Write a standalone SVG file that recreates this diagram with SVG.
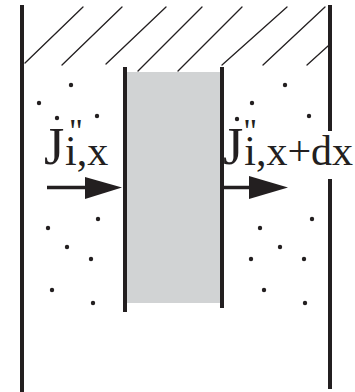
<svg xmlns="http://www.w3.org/2000/svg" width="355" height="392" viewBox="0 0 355 392">
<style>
.wall{stroke:#231f20;stroke-width:4;fill:none}
.inner{stroke:#231f20;stroke-width:4;fill:none}
.hatch{stroke:#231f20;stroke-width:1.3;fill:none;stroke-linecap:round}
.dot{fill:#231f20}
.t{font-family:"Liberation Serif","Times New Roman",serif;fill:#231f20}
.shaft{stroke:#231f20;stroke-width:3.5;fill:none}
.head{fill:#231f20}
</style>
<rect width="355" height="392" fill="#ffffff"/>
<g id="hatching">
<line class="hatch" x1="25" y1="63" x2="83" y2="7"/>
<line class="hatch" x1="62" y1="65" x2="122" y2="7"/>
<line class="hatch" x1="106" y1="64" x2="166" y2="7"/>
<line class="hatch" x1="138" y1="71" x2="202" y2="7"/>
<line class="hatch" x1="178" y1="71" x2="242" y2="7"/>
<line class="hatch" x1="222" y1="65" x2="287" y2="7"/>
<line class="hatch" x1="263" y1="65" x2="325" y2="7"/>
<line class="hatch" x1="307" y1="65" x2="328" y2="46"/>
</g>
<g id="walls">
<line class="wall" x1="22" y1="5" x2="22" y2="392"/>
<line class="wall" x1="330" y1="5" x2="330" y2="389"/>
</g>
<g id="membrane">
<rect x="127" y="72" width="93" height="231" fill="#d1d3d4"/>
<line class="inner" x1="125" y1="67" x2="125" y2="312"/>
<line class="inner" x1="222" y1="67" x2="222" y2="308"/>
</g>
<g id="particles">
<circle class="dot" cx="71" cy="85" r="2.2"/>
<circle class="dot" cx="39" cy="103" r="2.2"/>
<circle class="dot" cx="57" cy="118" r="2.2"/>
<circle class="dot" cx="97" cy="116" r="2.2"/>
<circle class="dot" cx="98" cy="219" r="2.2"/>
<circle class="dot" cx="48" cy="228" r="2.2"/>
<circle class="dot" cx="67" cy="247" r="2.2"/>
<circle class="dot" cx="91" cy="259" r="2.2"/>
<circle class="dot" cx="52" cy="290" r="2.2"/>
<circle class="dot" cx="93" cy="303" r="2.2"/>
<circle class="dot" cx="285" cy="85" r="2.2"/>
<circle class="dot" cx="252" cy="103" r="2.2"/>
<circle class="dot" cx="237" cy="119" r="2.2"/>
<circle class="dot" cx="309" cy="116" r="2.2"/>
<circle class="dot" cx="312" cy="219" r="2.2"/>
<circle class="dot" cx="260" cy="228" r="2.2"/>
<circle class="dot" cx="280" cy="247" r="2.2"/>
<circle class="dot" cx="251" cy="259" r="2.2"/>
<circle class="dot" cx="304" cy="259" r="2.2"/>
<circle class="dot" cx="264" cy="290" r="2.2"/>
<circle class="dot" cx="305" cy="303" r="2.2"/>
</g>
<g id="label-in">
<text class="t" x="44" y="164" font-size="52">J<tspan dx="4.8" dy="-22" font-size="34">"</tspan><tspan dx="-17.9" dy="23" font-size="42">i,x</tspan></text>
</g>
<g id="label-out">
<rect x="244" y="131" width="111" height="48" fill="#ffffff"/>
<text class="t" x="223" y="164" font-size="52">J<tspan dx="0" dy="-22" font-size="34">"</tspan><tspan dx="-12.9" dy="23" font-size="42">i,x+dx</tspan></text>
</g>
<g id="connectors">
<line class="shaft" x1="47" y1="187.5" x2="92" y2="187.5"/>
<polygon class="head" points="85,177 122,187.5 85,199"/>
<line class="shaft" x1="222" y1="187.5" x2="255" y2="187.5"/>
<polygon class="head" points="249,176 288,187.5 249,199"/>
</g>
</svg>
